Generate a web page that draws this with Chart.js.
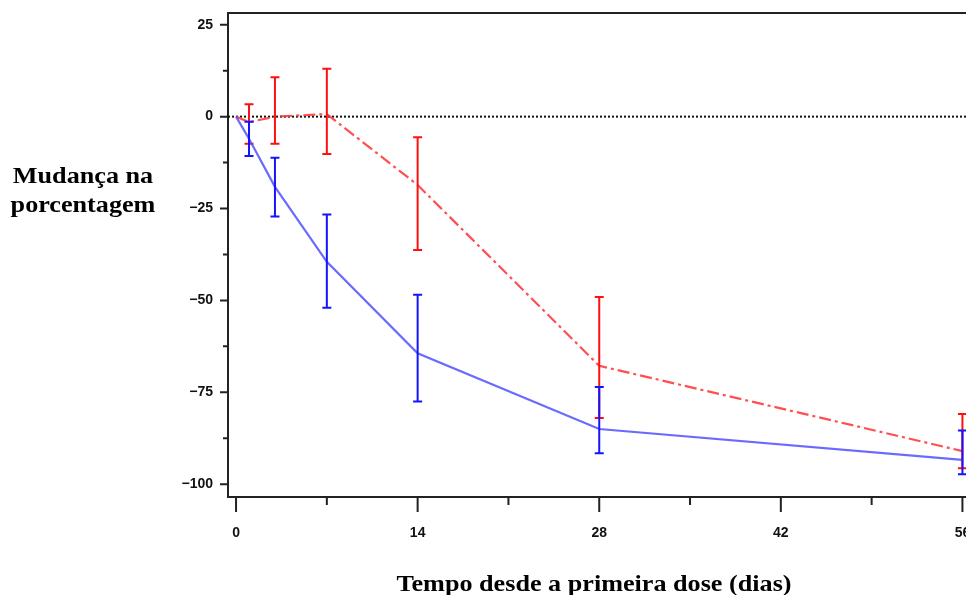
<!DOCTYPE html>
<html>
<head>
<meta charset="utf-8">
<script src="https://cdn.jsdelivr.net/npm/chart.js@4.4.1/dist/chart.umd.min.js"></script>
<style>
html, body { margin: 0; padding: 0; background: #fff; overflow: hidden; width: 966px; height: 595px; }
#wrap { position: relative; width: 966px; height: 595px; overflow: hidden; }
#graph { position: absolute; left: 0; top: 0; }
.ttl {
  position: absolute;
  font-family: "Liberation Serif", "Times New Roman", serif;
  font-weight: bold;
  font-size: 24px;
  line-height: 29px;
  color: #000;
  text-align: center;
  white-space: nowrap;
  transform: scaleX(1.09);
}
</style>
</head>
<body>
<div id="wrap">
  <canvas id="graph" width="1000" height="595"></canvas>
  <div class="ttl" style="left:-2px; top:161px; width:170px;">Mudança na<br>porcentagem</div>
  <div class="ttl" style="left:294px; top:569px; width:600px;">Tempo desde a primeira dose (dias)</div>
</div>
<script>
// jours de mesure
const days = [0, 1, 3, 7, 14, 28, 56];

// série bleue (trait plein)
const blueMean = [0, -6, -19.1, -39.5, -64.4, -85, -93.4];
const blueLow  = [null, -10.7, -27.2, -52, -77.5, -91.6, -97.3];
const blueHigh = [null, -1.4, -11.2, -26.6, -48.5, -73.6, -85.4];

// série rouge (trait mixte)
const redMean = [0, -1.5, 0, 0.7, -18.6, -67.8, -91];
const redLow  = [null, -7.4, -7.4, -10.2, -36.3, -82, -95.7];
const redHigh = [null, 3.4, 10.7, 13, -5.6, -49.1, -80.9];

// graduations
const xMajorTicks = [0, 14, 28, 42, 56];
const xMinorTicks = [7, 21, 35, 49];
const yMajorTicks = [-100, -75, -50, -25, 0, 25];
const yMinorTicks = [-87.5, -62.5, -37.5, -12.5, 12.5];

const toPoints = (xs, ys) => xs.map((x, i) => ({ x: x, y: ys[i] }));
const tickFont = { family: '"Liberation Sans", Arial, sans-serif', size: 14, weight: 'bold' };
const axisColor = '#222';

// barres d'erreur, ligne zéro, graduations et cadre
const errorBarsPlugin = {
  id: 'errorBars',
  beforeDatasetsDraw(chart) {
    const { ctx, chartArea } = chart;
    const y0 = chart.scales.y.getPixelForValue(0);
    ctx.save();
    ctx.strokeStyle = '#111';
    ctx.lineWidth = 2;
    ctx.setLineDash([2, 2]);
    ctx.beginPath();
    ctx.moveTo(chartArea.left, y0);
    ctx.lineTo(chartArea.right, y0);
    ctx.stroke();
    ctx.restore();
  },
  afterDatasetDraw(chart, args) {
    const ds = chart.data.datasets[args.index];
    if (!ds.errLow) return;
    const { ctx } = chart;
    const xs = chart.scales.x, ys = chart.scales.y;
    ctx.save();
    ctx.strokeStyle = ds.barColor;
    ctx.lineWidth = 2;
    ds.data.forEach((p, i) => {
      if (ds.errLow[i] === null) return;
      const px = xs.getPixelForValue(p.x);
      const top = ys.getPixelForValue(ds.errHigh[i]);
      const bot = ys.getPixelForValue(ds.errLow[i]);
      ctx.beginPath();
      ctx.moveTo(px, top); ctx.lineTo(px, bot);
      ctx.moveTo(px - 4.5, top); ctx.lineTo(px + 4.5, top);
      ctx.moveTo(px - 4.5, bot); ctx.lineTo(px + 4.5, bot);
      ctx.stroke();
    });
    ctx.restore();
  },
  afterDraw(chart) {
    const { ctx, chartArea } = chart;
    const xs = chart.scales.x, ys = chart.scales.y;
    ctx.save();
    ctx.strokeStyle = axisColor;
    ctx.lineWidth = 2;
    ctx.beginPath();
    // cadre du haut
    ctx.moveTo(chartArea.left - 1, chartArea.top);
    ctx.lineTo(chartArea.right, chartArea.top);
    xMajorTicks.forEach(v => {
      const px = xs.getPixelForValue(v);
      ctx.moveTo(px, chartArea.bottom); ctx.lineTo(px, chartArea.bottom + 15);
    });
    xMinorTicks.forEach(v => {
      const px = xs.getPixelForValue(v);
      ctx.moveTo(px, chartArea.bottom); ctx.lineTo(px, chartArea.bottom + 8);
    });
    yMajorTicks.forEach(v => {
      const py = ys.getPixelForValue(v);
      ctx.moveTo(chartArea.left, py); ctx.lineTo(chartArea.left - 8, py);
    });
    yMinorTicks.forEach(v => {
      const py = ys.getPixelForValue(v);
      ctx.moveTo(chartArea.left, py); ctx.lineTo(chartArea.left - 5, py);
    });
    ctx.stroke();
    ctx.restore();
  }
};

new Chart(document.getElementById('graph').getContext('2d'), {
  type: 'line',
  data: {
    datasets: [
      {
        label: 'Bleu',
        data: toPoints(days, blueMean),
        errLow: blueLow,
        errHigh: blueHigh,
        barColor: '#1414ff',
        borderColor: 'rgba(80, 80, 255, 0.85)',
        borderWidth: 2.2,
        pointRadius: 0,
        tension: 0,
        fill: false
      },
      {
        label: 'Rouge',
        data: toPoints(days, redMean),
        errLow: redLow,
        errHigh: redHigh,
        barColor: '#ff1010',
        borderColor: 'rgba(255, 60, 60, 0.9)',
        borderWidth: 2.2,
        borderDash: [12, 4, 3, 4],
        pointRadius: 0,
        tension: 0,
        fill: false
      }
    ]
  },
  options: {
    responsive: false,
    animation: false,
    layout: { padding: { left: 0, top: 13, right: 22, bottom: 0 } },
    plugins: {
      legend: { display: false },
      tooltip: { enabled: false },
      title: { display: false }
    },
    scales: {
      x: {
        type: 'linear',
        min: -0.62,
        max: 57.2,
        afterFit: s => { s.height = 98; s.paddingLeft = 0; s.paddingRight = 0; },
        afterBuildTicks: s => { s.ticks = xMajorTicks.map(v => ({ value: v })); },
        grid: { display: false, drawTicks: false },
        border: { display: true, color: axisColor, width: 2 },
        ticks: {
          font: tickFont,
          color: '#111',
          padding: 28,
          maxRotation: 0,
          autoSkip: false
        }
      },
      y: {
        type: 'linear',
        min: -103.5,
        max: 28.2,
        afterFit: s => { s.width = 228; s.paddingTop = 0; s.paddingBottom = 0; },
        afterBuildTicks: s => { s.ticks = yMajorTicks.map(v => ({ value: v })); },
        grid: { display: false, drawTicks: false },
        border: { display: true, color: axisColor, width: 2 },
        ticks: {
          font: tickFont,
          color: '#111',
          padding: 15,
          autoSkip: false,
          callback: v => (v < 0 ? '\u2212' + Math.abs(v) : String(v))
        }
      }
    }
  },
  plugins: [errorBarsPlugin]
});
</script>
</body>
</html>
